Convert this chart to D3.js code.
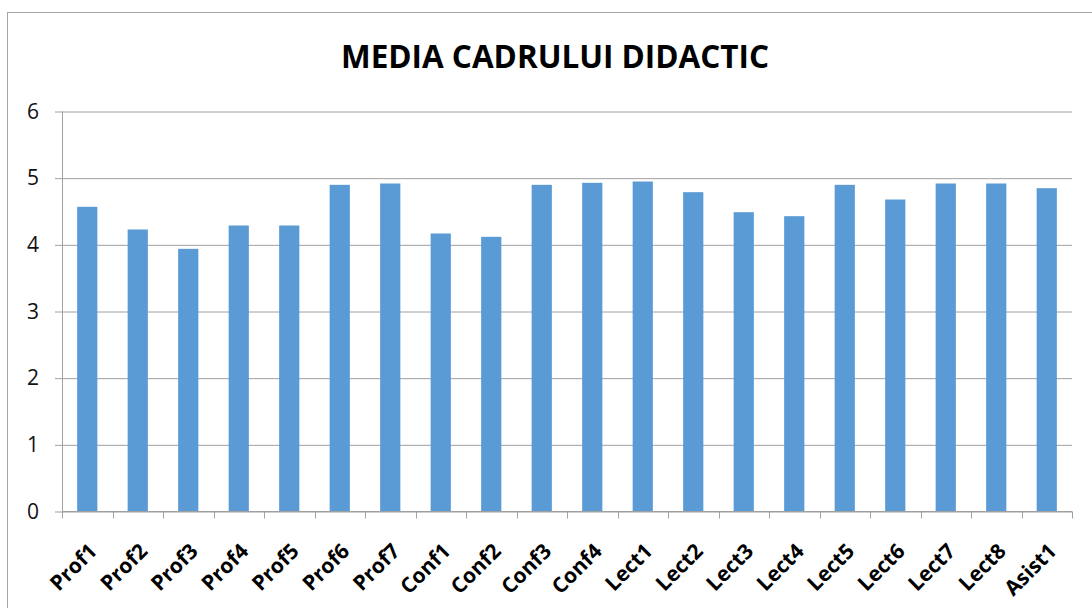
<!DOCTYPE html>
<html lang="ro">
<head>
<meta charset="UTF-8">
<title>Media cadrului didactic</title>
<style>
  body { margin: 0; background: #fff; }
  svg { display: block; }
  text { font-family: "Open Sans", "Noto Sans", sans-serif; }
</style>
</head>
<body>
<svg id="chart" width="1092" height="608"></svg>
<script src="https://cdn.jsdelivr.net/npm/d3@7"></script>
<script>
// categorii si valori
const categories = ["Prof1", "Prof2", "Prof3", "Prof4", "Prof5", "Prof6", "Prof7",
  "Conf1", "Conf2", "Conf3", "Conf4", "Lect1", "Lect2", "Lect3", "Lect4",
  "Lect5", "Lect6", "Lect7", "Lect8", "Asist1"];
const values = [4.57, 4.23, 3.94, 4.29, 4.29, 4.90, 4.92, 4.17, 4.12, 4.90,
  4.93, 4.95, 4.79, 4.49, 4.43, 4.90, 4.68, 4.92, 4.92, 4.85];
const yTicks = [0, 1, 2, 3, 4, 5, 6];
const title = "MEDIA CADRULUI DIDACTIC";

const svg = d3.select("#chart");
const plotLeft = 62, plotRight = 1072, plotTop = 111.5, plotBottom = 511.5;

// chenarul graficului
svg.append("rect")
  .attr("x", 7.5).attr("y", 12.5)
  .attr("width", 1200).attr("height", 700)
  .attr("fill", "none")
  .attr("stroke", "#a6a6a6")
  .attr("stroke-width", 1);

const x = d3.scaleBand()
  .domain(categories)
  .range([plotLeft, plotRight])
  .paddingInner(0.6)
  .paddingOuter(0.3);

const y = d3.scaleLinear()
  .domain([0, 6])
  .range([plotBottom, plotTop]);

// linii de grila + etichete axa Y
const yAxis = svg.append("g")
  .attr("transform", `translate(${plotLeft},0)`)
  .call(d3.axisLeft(y).tickValues(yTicks).tickFormat(d3.format("d"))
    .tickSize(-(plotRight - plotLeft)).tickSizeOuter(0).tickPadding(23));
yAxis.select(".domain").remove();
yAxis.selectAll(".tick line")
  .attr("x1", -7)
  .attr("stroke", "#a0a0a0");
yAxis.selectAll(".tick text")
  .attr("font-size", 21)
  .attr("fill", "#111")
  .attr("font-family", "Open Sans, sans-serif");

// axa verticala
svg.append("line")
  .attr("x1", plotLeft + 0.5).attr("x2", plotLeft + 0.5)
  .attr("y1", plotTop).attr("y2", plotBottom)
  .attr("stroke", "#a0a0a0");

// bare
svg.append("g")
  .selectAll("rect")
  .data(values)
  .join("rect")
  .attr("x", (d, i) => x(categories[i]))
  .attr("y", d => y(d))
  .attr("width", x.bandwidth())
  .attr("height", d => y(0) - y(d))
  .attr("fill", "#5b9bd5");

// axa X cu gradatii intre categorii
const step = x.step();
const bounds = d3.range(categories.length + 1).map(i => plotLeft + i * step);
svg.append("line")
  .attr("x1", plotLeft).attr("x2", plotRight)
  .attr("y1", plotBottom).attr("y2", plotBottom)
  .attr("stroke", "#a0a0a0");
svg.append("g")
  .selectAll("line")
  .data(bounds)
  .join("line")
  .attr("x1", d => Math.round(d) + 0.5).attr("x2", d => Math.round(d) + 0.5)
  .attr("y1", plotBottom).attr("y2", plotBottom + 7)
  .attr("stroke", "#a0a0a0");

// etichete categorii rotite
svg.append("g")
  .selectAll("text")
  .data(categories)
  .join("text")
  .attr("transform", d => `translate(${x(d) + x.bandwidth() / 2 + 11},${plotBottom + 41}) rotate(-45)`)
  .attr("text-anchor", "end")
  .attr("font-size", 21)
  .attr("font-weight", "bold")
  .attr("fill", "#000")
  .text(d => d);

// titlu
const t = svg.append("text")
  .attr("x", 555)
  .attr("y", 68)
  .attr("text-anchor", "middle")
  .attr("font-size", 32)
  .attr("font-weight", "bold")
  .attr("fill", "#000")
  .text(title);
if (t.node().getComputedTextLength() > 430) {
  t.attr("textLength", 428).attr("lengthAdjust", "spacingAndGlyphs");
}
</script>
</body>
</html>
